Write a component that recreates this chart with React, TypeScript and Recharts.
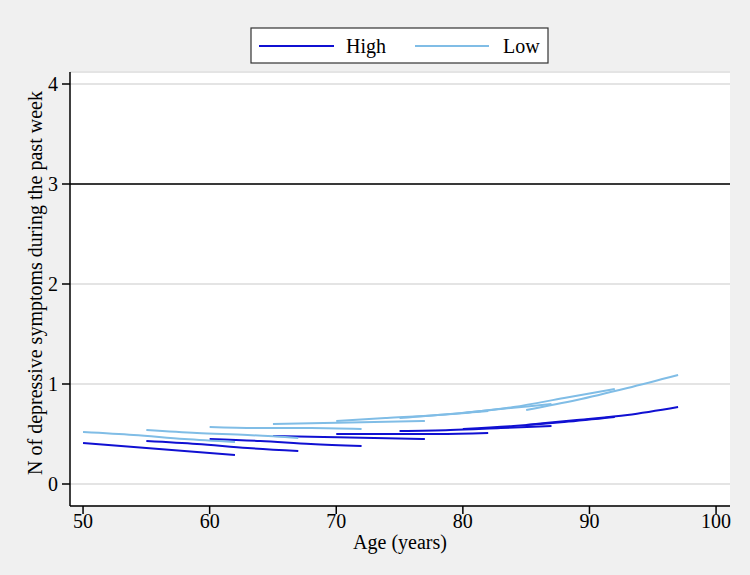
import {
  LineChart,
  Line,
  XAxis,
  YAxis,
  CartesianGrid,
  ReferenceLine,
  Label,
} from 'recharts';

// ages read at start, +4, +8, +12 years of each cohort segment
const segmentAges = [
  [50, 54, 58, 62],
  [55, 59, 63, 67],
  [60, 64, 68, 72],
  [65, 69, 73, 77],
  [70, 74, 78, 82],
  [75, 79, 83, 87],
  [80, 84, 88, 92],
  [85, 89, 93, 97],
];

const highValues = [
  [0.41, 0.37, 0.33, 0.29],
  [0.43, 0.4, 0.36, 0.33],
  [0.45, 0.43, 0.4, 0.38],
  [0.48, 0.47, 0.46, 0.45],
  [0.5, 0.5, 0.5, 0.51],
  [0.53, 0.54, 0.56, 0.58],
  [0.55, 0.58, 0.62, 0.67],
  [0.59, 0.64, 0.69, 0.77],
];

const lowValues = [
  [0.52, 0.49, 0.45, 0.42],
  [0.54, 0.51, 0.49, 0.46],
  [0.57, 0.56, 0.56, 0.55],
  [0.6, 0.61, 0.62, 0.63],
  [0.63, 0.66, 0.69, 0.73],
  [0.66, 0.7, 0.75, 0.8],
  [0.71, 0.77, 0.86, 0.95],
  [0.74, 0.84, 0.96, 1.09],
];

const xTicks = [50, 60, 70, 80, 90, 100];
const yTicks = [0, 1, 2, 3, 4];

const HIGH = '#1010d2';
const LOW = '#80bde6';
const FONT = "'Liberation Serif', 'Times New Roman', serif";
const txt = { fontFamily: FONT, fontSize: 20, fill: '#000' };

const toSeries = (values: number[][]) =>
  segmentAges.map((ages, i) => ages.map((age, j) => ({ age, v: values[i][j] })));

const highSeries = toSeries(highValues);
const lowSeries = toSeries(lowValues);

const XTick = ({ x, y, payload }: any) => (
  <text x={x} y={y + 5} textAnchor="middle" dominantBaseline="central" style={txt}>
    {payload.value}
  </text>
);

const YTick = ({ x, y, payload }: any) => (
  <text x={x - 2} y={y} textAnchor="end" dominantBaseline="central" style={txt}>
    {payload.value}
  </text>
);

function LegendBox() {
  return (
    <svg
      width={300}
      height={40}
      style={{ position: 'absolute', left: 249, top: 26 }}
    >
      <rect x={2} y={2} width={297} height={35} fill="#fff" stroke="#333" strokeWidth={1.2} />
      <line x1={10} x2={85} y1={20} y2={20} stroke={HIGH} strokeWidth={2} />
      <text x={97} y={20} dominantBaseline="central" style={txt}>High</text>
      <line x1={166} x2={240} y1={20} y2={20} stroke={LOW} strokeWidth={2} />
      <text x={254} y={20} dominantBaseline="central" style={txt}>Low</text>
    </svg>
  );
}

export default function App() {
  return (
    <div
      style={{
        position: 'absolute',
        left: 0,
        top: 0,
        width: 750,
        height: 575,
        background: '#f0f0f0',
      }}
    >
      <LineChart
        width={750}
        height={575}
        margin={{ top: 72, right: 20, bottom: 0, left: 0 }}
      >
        <CartesianGrid vertical={false} stroke="#e4e4e4" strokeWidth={2} fill="#fff" />
        <XAxis
          type="number"
          dataKey="age"
          domain={[48.97, 101.1]}
          ticks={xTicks}
          allowDataOverflow
          height={69}
          tickSize={8}
          tick={<XTick />}
          axisLine={{ stroke: '#000', strokeWidth: 1.5 }}
          tickLine={{ stroke: '#000', strokeWidth: 1.5 }}
        >
          <Label
            content={() => (
              <text x={400} y={542} textAnchor="middle" dominantBaseline="central" style={txt}>
                Age (years)
              </text>
            )}
          />
        </XAxis>
        <YAxis
          type="number"
          domain={[-0.22, 4.12]}
          ticks={yTicks}
          allowDataOverflow
          width={70}
          tickSize={8}
          tick={<YTick />}
          axisLine={{ stroke: '#000', strokeWidth: 1.5 }}
          tickLine={{ stroke: '#000', strokeWidth: 1.5 }}
        >
          <Label
            content={() => (
              <text
                x={35}
                y={283}
                transform="rotate(-90 35 283)"
                textAnchor="middle"
                dominantBaseline="central"
                style={txt}
              >
                N of depressive symptoms during the past week
              </text>
            )}
          />
        </YAxis>
        <ReferenceLine y={3} stroke="#000" strokeWidth={1.5} />
        {highSeries.map((d, i) => (
          <Line
            key={`high-${i}`}
            data={d}
            dataKey="v"
            type="monotone"
            stroke={HIGH}
            strokeWidth={2}
            dot={false}
            activeDot={false}
            isAnimationActive={false}
          />
        ))}
        {lowSeries.map((d, i) => (
          <Line
            key={`low-${i}`}
            data={d}
            dataKey="v"
            type="monotone"
            stroke={LOW}
            strokeWidth={2}
            dot={false}
            activeDot={false}
            isAnimationActive={false}
          />
        ))}
      </LineChart>
      <LegendBox />
    </div>
  );
}
